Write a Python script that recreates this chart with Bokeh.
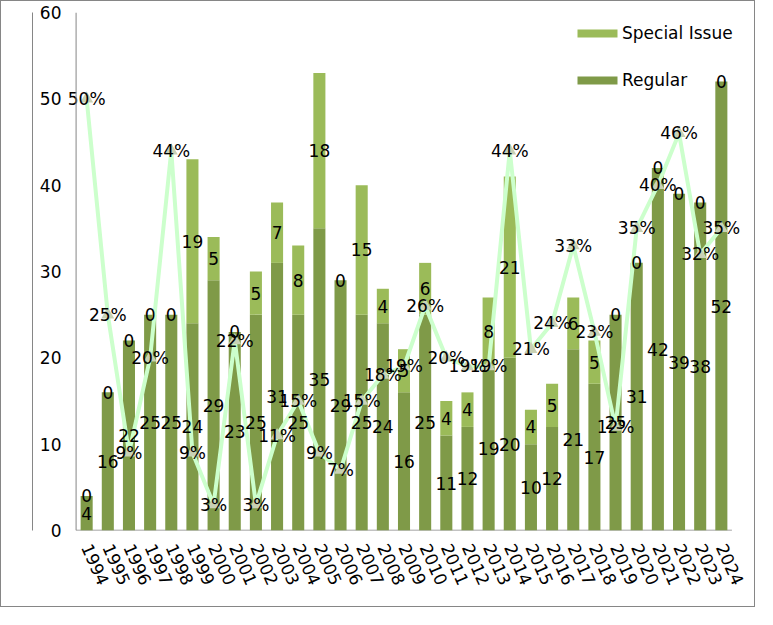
from bokeh.plotting import figure
from bokeh.models import (ColumnDataSource, FactorRange, Range1d, LinearAxis,
                          FixedTicker, Legend, LegendItem, Span)
from bokeh.embed import file_html
from bokeh.resources import INLINE
from bokeh.core.properties import value

years = ["1994", "1995", "1996", "1997", "1998", "1999", "2000", "2001", "2002", "2003",
         "2004", "2005", "2006", "2007", "2008", "2009", "2010", "2011", "2012", "2013",
         "2014", "2015", "2016", "2017", "2018", "2019", "2020", "2021", "2022", "2023", "2024"]
regular = [4, 16, 22, 25, 25, 24, 29, 23, 25, 31, 25, 35, 29, 25, 24, 16, 25, 11, 12, 19,
           20, 10, 12, 21, 17, 25, 31, 42, 39, 38, 52]
special = [0, 0, 0, 0, 0, 19, 5, 0, 5, 7, 8, 18, 0, 15, 4, 5, 6, 4, 4, 8,
           21, 4, 5, 6, 5, 0, 0, 0, 0, 0, 0]
ratio = [50, 25, 9, 20, 44, 9, 3, 22, 3, 11, 15, 9, 7, 15, 18, 19, 26, 20, 19, 19,
         44, 21, 24, 33, 23, 12, 35, 40, 46, 32, 35]
y_ticks = [0, 10, 20, 30, 40, 50, 60]

FONT_NAME = "DejaVu Sans"
FONT = value(FONT_NAME)
FS = "17px"
GRAY = "#868686"
C_REG = "#7F9A48"
C_SPE = "#9BBB59"

top = [r + s for r, s in zip(regular, special)]
src = ColumnDataSource(dict(
    year=years, regular=regular, special=special, top=top, ratio=ratio,
    rmid=[r / 2 for r in regular],
    smid=[r + s / 2 for r, s in zip(regular, special)],
    rtxt=[str(r) for r in regular],
    stxt=[str(s) for s in special],
    ptxt=[f"{v}%" for v in ratio],
))

# half a category of room on each side so labels near the edges are not clipped
x_range = FactorRange(*years, range_padding=0.5, range_padding_units="absolute")

p = figure(x_range=x_range, y_range=Range1d(0, 60),
           width=755, height=607, output_backend="svg", toolbar_location=None,
           min_border_left=64, min_border_right=14, min_border_top=11, min_border_bottom=78)
p.styles = {"border": f"1px solid {GRAY}"}
p.outline_line_color = None
p.xgrid.grid_line_color = None
p.ygrid.grid_line_color = None

ya = p.yaxis[0]
ya.ticker = FixedTicker(ticks=y_ticks)
ya.major_tick_line_color = None
ya.minor_tick_line_color = None
ya.major_tick_out = 0
ya.major_tick_in = 0
ya.minor_tick_out = 0
ya.minor_tick_in = 0
ya.axis_line_color = None
ya.major_label_standoff = 4
ya.major_label_text_font = FONT_NAME
ya.major_label_text_font_size = FS
ya.major_label_text_color = "black"
ya.axis_label = " "
ya.axis_label_standoff = 0
ya.axis_label_text_font_size = "1px"

outer = LinearAxis(ticker=FixedTicker(ticks=[]), axis_line_color=GRAY,
                   major_tick_line_color=None, minor_tick_line_color=None,
                   major_tick_out=0, major_tick_in=0, minor_tick_out=0, minor_tick_in=0,
                   major_label_text_font_size="0px", major_label_standoff=0)
p.add_layout(outer, "left")

xa = p.xaxis[0]
xa.major_tick_line_color = None
xa.minor_tick_line_color = None
xa.major_tick_out = 0
xa.major_tick_in = 0
xa.axis_line_color = None
xa.major_label_orientation = -1.15
xa.major_label_standoff = 14
xa.major_label_text_font = FONT_NAME
xa.major_label_text_font_size = FS
xa.major_label_text_color = "black"

# axis lines bounding the category area
p.add_layout(Span(location=0, dimension="height", line_color=GRAY, line_width=1))
p.segment(x0=[0], y0=[0], x1=[len(years)], y1=[0], line_color=GRAY, line_width=1.5)

r_reg = p.vbar(x="year", bottom=0, top="regular", width=0.57, source=src,
               fill_color=C_REG, line_color=None)
r_spe = p.vbar(x="year", bottom="regular", top="top", width=0.57, source=src,
               fill_color=C_SPE, line_color=None)

p.line(x="year", y="ratio", source=src, line_color="#CCFFCC", line_width=4)
p.scatter(x="year", y="ratio", source=src, marker="triangle", size=13,
          fill_color="#C9D2B5", line_color=None)

for ycol, tcol in (("rmid", "rtxt"), ("smid", "stxt"), ("ratio", "ptxt")):
    p.text(x="year", y=ycol, text=tcol, source=src, text_align="center",
           text_baseline="middle", text_font=FONT, text_font_size=FS, text_color="black")

legend = Legend(items=[LegendItem(label="Special Issue", renderers=[r_spe]),
                       LegendItem(label="Regular", renderers=[r_reg])],
                location=(507, 440), glyph_width=50, glyph_height=10, label_standoff=0,
                spacing=27, padding=0, margin=0, border_line_color=None,
                background_fill_alpha=0, label_text_font=FONT_NAME, label_text_font_size=FS,
                label_text_color="black")
p.add_layout(legend)

open("out.html", "w").write(file_html(p, INLINE))
